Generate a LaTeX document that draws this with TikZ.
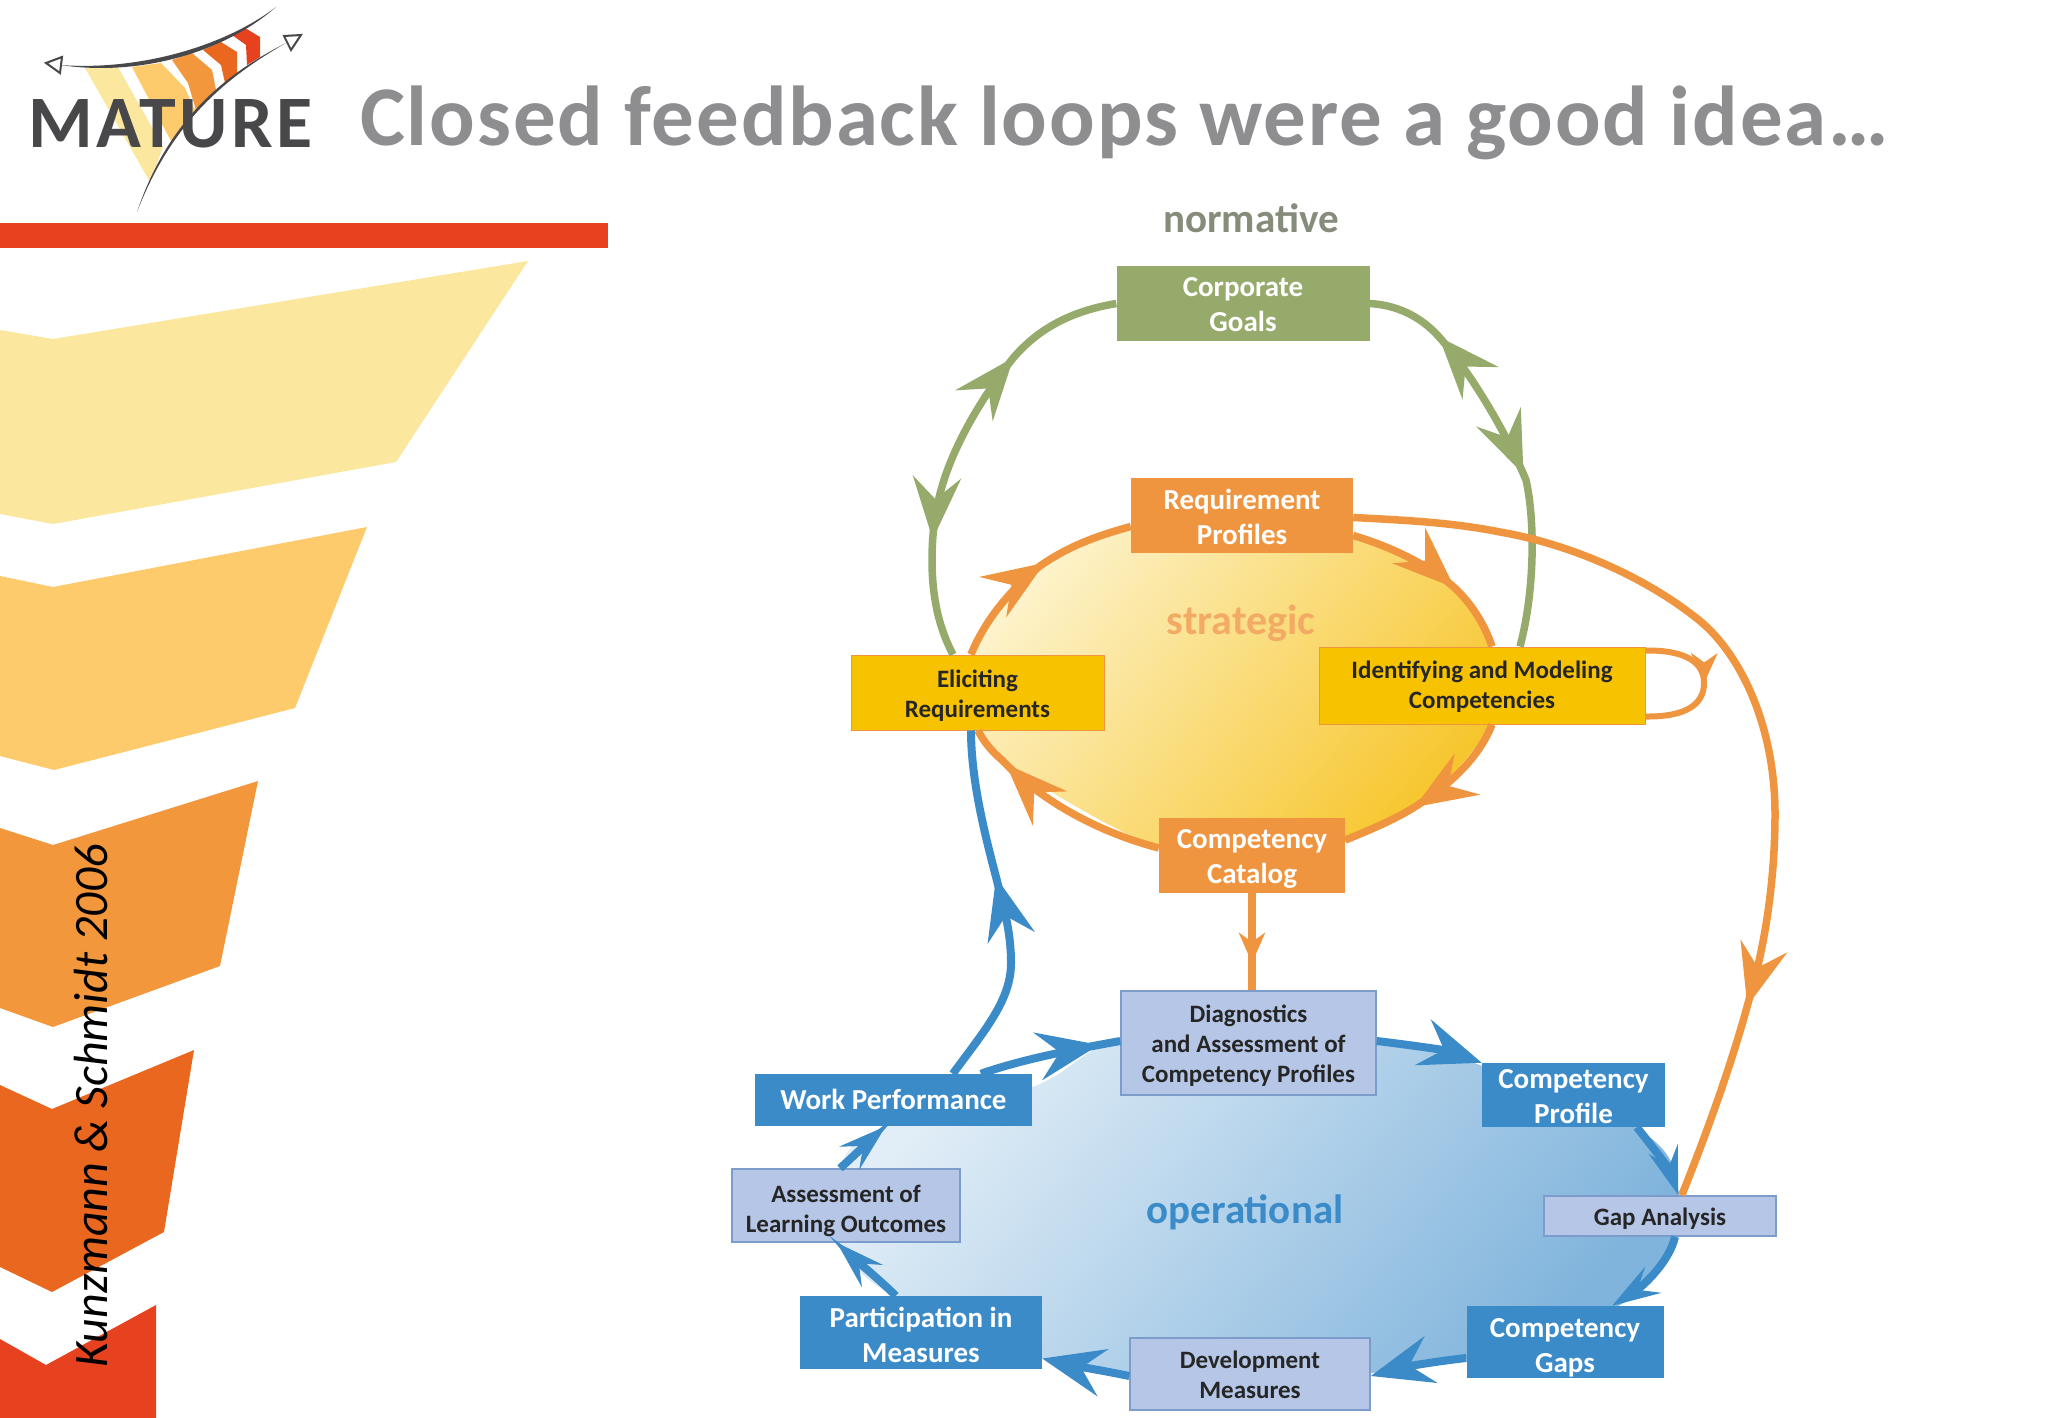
\documentclass[tikz,border=0pt]{standalone}
\usepackage{fontspec}
\setmainfont{Carlito}
\newfontfamily\titlefont{Carlito}[LetterSpace=2.2]
\newfontfamily\logofont{Carlito}[LetterSpace=5]
\usetikzlibrary{arrows.meta,decorations.markings}
\definecolor{cgreen}{HTML}{96AA6C}
\definecolor{corange}{HTML}{F0953F}
\definecolor{cyellow}{HTML}{F7C200}
\definecolor{cblue}{HTML}{3B8BC9}
\definecolor{clight}{HTML}{B5C6E6}
\definecolor{cedge}{HTML}{7C9DCB}
\definecolor{cgrey}{HTML}{8E8D8F}
\definecolor{cdark}{HTML}{48484A}
\definecolor{fa}{HTML}{FCE79E}
\definecolor{fb}{HTML}{FDCB6B}
\definecolor{fc}{HTML}{F2973C}
\definecolor{fd}{HTML}{E9671F}
\definecolor{fe}{HTML}{E64220}
\definecolor{sunlight}{HTML}{FDF3CC}
\definecolor{sundark}{HTML}{F7C52A}
\tikzset{
  big/.tip={Stealth[length=62pt,width=48pt,inset=22pt]},
  small/.tip={Stealth[length=48pt,width=30pt,inset=18pt]},
  little/.tip={Stealth[length=30pt,width=26pt,inset=9pt]},
  fwd/.style 2 args={postaction={decorate,decoration={markings,mark=at position #1 with {\arrow{#2}}}}},
  rev/.style 2 args={postaction={decorate,decoration={markings,mark=at position #1 with {\arrowreversed{#2}}}}},
  box/.style={rectangle,inner sep=0pt,align=center,text depth=0pt},
  white text/.style={font=\bfseries\fontsize{29}{35}\selectfont,text=white},
  black text/.style={font=\bfseries\fontsize{25}{30}\selectfont,text=black!85},
  gbox/.style={box,white text,fill=cgreen},
  obox/.style={box,white text,fill=corange},
  ybox/.style={box,black text,fill=cyellow,draw=corange,line width=1pt},
  bbox/.style={box,white text,fill=cblue},
  lbox/.style={box,black text,fill=clight,draw=cedge,line width=1.5pt},
  gline/.style={draw=cgreen,line width=7.5pt},
  oline/.style={draw=corange,line width=7.5pt},
  bline/.style={draw=cblue,line width=8pt},
  level/.style={font=\bfseries\fontsize{41}{41}\selectfont}
}
\begin{document}
\begin{tikzpicture}[x=1pt,y=-1pt]
\useasboundingbox (0,0) rectangle (2048,1418);
\fill[white] (0,0) rectangle (2048,1418);

% left funnel
\fill[fa] (0,330) -- (53,339) -- (528,261) -- (396,462) -- (53,524) -- (0,514) -- cycle;
\fill[fb] (0,576) -- (53,587) -- (367,527) -- (295,708) -- (54,770) -- (0,756) -- cycle;
\fill[fc] (0,828) -- (53,845) -- (258,781) -- (220,966) -- (53,1027) -- (0,1008) -- cycle;
\fill[fd] (0,1085) -- (52,1109) -- (194,1050) -- (164,1232) -- (52,1292) -- (0,1267) -- cycle;
\fill[fe] (0,1339) -- (46,1365) -- (156,1305) -- (156,1418) -- (0,1418) -- cycle;
\fill[fe] (0,223) rectangle (608,248);
\node[rotate=90,anchor=base west,inner sep=0pt,font=\itshape\fontsize{48}{48}\selectfont] (cite) at (107,1368) {Kunzmann \& Schmidt 2006};

% logo
\fill[fa] (85,68) -- (118,67) -- (163,147) -- (150,182) -- cycle;
\fill[fb] (132,67) -- (161,63) -- (185,88) -- (196,112) -- (172,143) -- cycle;
\fill[fc] (172,60) -- (192,53) -- (212,70) -- (216,90) -- (196,110) -- (188,83) -- cycle;
\fill[fd] (203,50) -- (221,42) -- (237,52) -- (237,73) -- (225,83) -- (221,65) -- cycle;
\fill[fe] (232,35) -- (245,28) -- (260,37) -- (260,57) -- (247,65) -- (246,45) -- cycle;
\node[anchor=base west,inner sep=0pt,text=cdark,font=\logofont\bfseries\fontsize{74}{74}\selectfont] (logo) at (28,148) {MATURE};
\fill[cdark] (60,65) .. controls (140,71) and (225,46) .. (276,7) .. controls (225,52) and (140,77) .. (60,65) -- cycle;
\fill[cdark] (137,212) .. controls (168,120) and (225,74) .. (286,43) .. controls (225,78) and (172,122) .. (137,212) -- cycle;
\draw[cdark,line width=2pt,fill=white] (46,63) -- (62,57) -- (60,73) -- cycle;
\draw[cdark,line width=2pt,fill=white] (284,36) -- (301,35) -- (291,50) -- cycle;

% title
\node[anchor=base west,inner sep=0pt,text=cgrey,font=\titlefont\bfseries\fontsize{85}{85}\selectfont] (title) at (360,146) {Closed feedback loops were a good idea…};

% level backgrounds
\shade[top color=sunlight,bottom color=sundark,shading angle=50] plot[smooth cycle,tension=.7] coordinates {(971,655) (1040,566) (1131,527) (1240,520) (1353,535) (1449,583) (1492,650) (1495,690) (1492,724) (1425,800) (1345,842) (1250,855) (1159,848) (1002,760) (975,720) (966,690)};
\shade[top color=white!85!cblue,bottom color=cblue!65,shading angle=50] plot[smooth cycle,tension=.7] coordinates {(1030,1088) (1121,1040) (1250,1040) (1376,1042) (1480,1065) (1640,1130) (1680,1200) (1665,1260) (1610,1310) (1460,1360) (1250,1378) (1040,1358) (900,1300) (838,1240) (838,1170) (890,1125)};

% labels
\node[level,text=gray!70!cgreen] (normative) at (1251,218) {normative};
\node[level,text=corange!80,font=\bfseries\fontsize{42}{42}\selectfont] (strategic) at (1241,623) {strategic};
\node[level,text=cblue] (operational) at (1245,1212) {operational};

% boxes, text height puts the last baseline
\node[gbox,minimum width=253pt,minimum height=75pt,text height=55pt] (goals) at (1243,303.5) {Corporate\\Goals};
\node[obox,minimum width=222pt,minimum height=75pt,text height=57pt] (reqprof) at (1242,515.5) {Requirement\\Profiles};
\node[ybox,minimum width=253pt,minimum height=75pt,text height=49pt] (elicit) at (977.5,692.5) {Eliciting\\Requirements};
\node[ybox,minimum width=326pt,minimum height=77pt,text height=45pt] (identify) at (1482,685.5) {Identifying and Modeling\\Competencies};
\node[obox,minimum width=186pt,minimum height=75pt,text height=56pt] (catalog) at (1252,855) {Competency\\Catalog};
\node[lbox,minimum width=255pt,minimum height=104pt,text height=78pt] (diag) at (1248.5,1043) {Diagnostics\\and Assessment of\\Competency Profiles};
\node[bbox,minimum width=183pt,minimum height=64pt,text height=56pt] (cprofile) at (1573.5,1095) {Competency\\Profile};
\node[bbox,minimum width=277pt,minimum height=52pt,text height=18pt] (work) at (893.5,1100) {Work Performance};
\node[lbox,minimum width=228pt,minimum height=73pt,text height=53pt] (assess) at (846,1205.5) {Assessment of\\Learning Outcomes};
\node[lbox,minimum width=232pt,minimum height=40pt,text height=18pt] (gap) at (1660,1216) {Gap Analysis};
\node[bbox,minimum width=242pt,minimum height=73pt,text height=59pt] (partic) at (921,1332.5) {Participation in\\Measures};
\node[lbox,minimum width=240pt,minimum height=72pt,text height=48pt] (devm) at (1250,1374) {Development\\Measures};
\node[bbox,minimum width=197pt,minimum height=72pt,text height=60pt] (cgaps) at (1565,1342) {Competency\\Gaps};

% normative loop
\path[gline,rev={.27}{big},fwd={.73}{big}] (goals.west) .. controls (1065,312) and (1035,333) .. (1014,357) .. controls (995,380) and (960,430) .. (944,480) .. controls (936,505) and (932,530) .. (932,560) .. controls (932,600) and (940,630) .. ([xshift=-24.5pt]elicit.north);
\path[gline,rev={.19}{big},fwd={.58}{big}] (goals.east) .. controls (1395,305) and (1420,315) .. (1440,338) .. controls (1470,372) and (1505,430) .. (1526,480) .. controls (1535,520) and (1535,590) .. ([xshift=38pt]identify.north);

% strategic loop
\path[oline,fwd={.56}{big}] ([xshift=-6.5pt]elicit.north) .. controls (985,620) and (1010,590) .. (1040,566) .. controls (1070,545) and (1100,535) .. ([yshift=-11pt]reqprof.west);
\path[oline,fwd={.62}{big}] ([yshift=-20pt]reqprof.east) .. controls (1385,545) and (1420,560) .. (1449,583) .. controls (1470,600) and (1485,625) .. ([xshift=10pt]identify.north);
\path[oline,fwd={.6}{big}] ([xshift=10pt]identify.south) .. controls (1480,755) and (1455,780) .. (1425,800) .. controls (1405,815) and (1375,828) .. ([yshift=15pt]catalog.east);
\path[oline,fwd={.8}{big}] ([yshift=7pt]catalog.west) .. controls (1090,830) and (1035,795) .. (1002,760) .. controls (990,750) and (983,740) .. ([xshift=.5pt]elicit.south);
\path[draw=corange,line width=6pt,fwd={.5}{little}] ([yshift=35pt]identify.east) .. controls (1690,650) and (1704,665) .. (1704,683) .. controls (1704,705) and (1685,717) .. ([yshift=-31pt]identify.east);
\path[oline,fwd={.795}{big}] ([yshift=-2pt]reqprof.east) .. controls (1400,520) and (1450,522) .. (1500,532) .. controls (1575,545) and (1650,580) .. (1700,621) .. controls (1740,654) and (1775,725) .. (1775,814) .. controls (1775,880) and (1765,945) .. (1750,996) .. controls (1733,1060) and (1708,1130) .. ([xshift=138.5pt]gap.north west);
\path[oline,fwd={.72}{little}] (catalog.south) -- (catalog.south |- diag.north);

% operational loop
\path[bline,fwd={.59}{big}] ([xshift=198pt]work.north west) .. controls (985,1030) and (1011,1000) .. (1011,963) .. controls (1011,930) and (1003,905) .. (996,877) .. controls (985,835) and (971,780) .. ([xshift=-6.5pt]elicit.south);
\path[bline,fwd={.85}{big}] ([xshift=226pt]work.north west) .. controls (1020,1060) and (1070,1050) .. ([yshift=2pt]diag.west);
\path[bline,-{big}] ([yshift=2pt]diag.east) .. controls (1410,1045) and (1445,1050) .. (cprofile.north west);
\path[bline,-{small}] ([xshift=155pt]cprofile.south west) .. controls (1655,1150) and (1670,1170) .. ([xshift=135pt]gap.north west);
\path[bline,-{small}] ([xshift=15pt]gap.south) .. controls (1670,1260) and (1645,1285) .. ([xshift=47pt]cgaps.north);
\path[bline,-{big}] ([yshift=-16pt]cgaps.west) .. controls (1430,1362) and (1400,1368) .. ([yshift=-2pt]devm.east);
\path[bline,-{big}] ([yshift=-2pt]devm.west) .. controls (1100,1370) and (1070,1365) .. ([yshift=-26pt]partic.east);
\path[bline,-{small}] ([xshift=96pt]partic.north west) .. controls (880,1280) and (850,1255) .. ([xshift=-9pt]assess.south);
\path[bline,-{small}] ([xshift=-6pt]assess.north) .. controls (855,1155) and (870,1140) .. ([xshift=131pt]work.south west);
\end{tikzpicture}
\end{document}
